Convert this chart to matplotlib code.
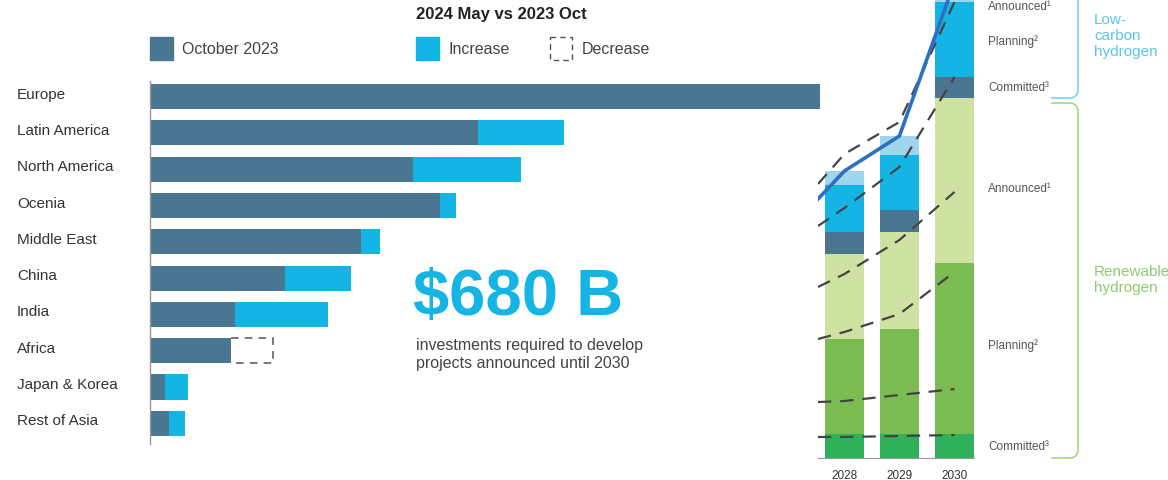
import numpy as np
import matplotlib
matplotlib.use('Agg')
import matplotlib.pyplot as plt
import matplotlib.transforms as mtransforms
from matplotlib.patches import Rectangle

plt.rcParams['font.family'] = ['Liberation Sans', 'DejaVu Sans']

# left chart: investment by region (Oct 2023 base + change to May 2024)
regions = ['Europe', 'Latin America', 'North America', 'Ocenia', 'Middle East',
           'China', 'India', 'Africa', 'Japan & Korea', 'Rest of Asia']
oct_2023 = [200, 97.9, 78.5, 86.6, 63.0, 40.3, 25.4, 24.2, 4.5, 5.7]
increase = [0, 25.7, 32.2, 4.8, 5.7, 19.7, 27.8, 0, 6.9, 4.8]
decrease = [0, 0, 0, 0, 0, 0, 0, 12.5, 0, 0]

# right chart: stacked capacity by year
years = ['2028', '2029', '2030']
green_committed = [24, 24, 24]
green_planning = [95, 105, 171]
green_announced = [85, 97, 165]
lc_committed = [22, 22, 21]
lc_planning = [47, 55, 75]
lc_announced = [14, 19, 20]

# comparison lines (x: left edge, 2028, 2029, 2030)
line_x = [-0.48, 0, 1, 2]
total_start = 259
oct_lines = [
    [274, 304, 336, 456],
    [232, 250, 291, 381],
    [171, 184, 218, 266],
    [119, 126, 144, 186],
    [56, 57, 63, 69],
    [21, 21, 22, 23],
]

C_OCT = '#4b7692'
C_INC = '#14b5e5'
C_LC_ANN = '#9fd6ee'
C_G_COM = '#2fb15b'
C_G_PLAN = '#7abc52'
C_G_ANN = '#cee3a2'
C_TEXT = '#333333'

W, H = 1168, 481
fig = plt.figure(figsize=(W / 100, H / 100), dpi=100)


def fx(px):
    return px / W


def fy(py):
    return 1 - py / H


# ---- left bar chart
ax = fig.add_axes([fx(150), fy(445), fx(820 - 150), (445 - 82) / H])
ypos = np.arange(len(regions))
bh = 0.69
ax.barh(ypos, oct_2023, height=bh, color=C_OCT, zorder=2)
ax.barh(ypos, increase, left=oct_2023, height=bh, color=C_INC, zorder=2)
for i, d in enumerate(decrease):
    if d > 0:
        x0, x1 = oct_2023[i], oct_2023[i] + d
        y0, y1 = i - bh / 2, i + bh / 2
        ax.plot([x0, x1, x1, x0], [y0, y0, y1, y1], color='#555555',
                lw=1.1, dashes=(5, 4), zorder=1)
ax.set_xlim(0, 200)
ax.set_ylim(9.57, -0.43)
ax.set_yticks([])
ax.set_xticks([])
lab_tr = mtransforms.offset_copy(
    mtransforms.blended_transform_factory(fig.transFigure, ax.transData),
    fig=fig, x=0, y=3, units='dots')
for i, name in enumerate(regions):
    ax.text(17 / W, i, name, transform=lab_tr, fontsize=11, color=C_TEXT,
            ha='left', va='center')
for s in ['top', 'right', 'bottom']:
    ax.spines[s].set_visible(False)
ax.spines['left'].set_color('#999999')
ax.spines['left'].set_linewidth(1)
ax.patch.set_visible(False)

# ---- right stacked chart
ax2 = fig.add_axes([fx(818), fy(459), fx(974 - 818), 459 / H])
xb = np.arange(len(years))
bw = 0.71
stacks = [(green_committed, C_G_COM), (green_planning, C_G_PLAN),
          (green_announced, C_G_ANN), (lc_committed, C_OCT),
          (lc_planning, C_INC), (lc_announced, C_LC_ANN)]
bottom = np.zeros(len(years))
for vals, col in stacks:
    ax2.bar(xb, vals, width=bw, bottom=bottom, color=col, zorder=1)
    bottom = bottom + np.array(vals)
for ln in oct_lines:
    ax2.plot(line_x, ln, color='#444444', lw=1.6, dashes=(6, 4), zorder=3)
totals = [total_start] + list(bottom)
ax2.plot(line_x, totals, color='#2f6ec3', lw=2.6, zorder=4)
ax2.set_xlim(-0.48, 2.355)
ax2.set_ylim(0, 459)
ax2.set_xticks(xb)
ax2.set_xticklabels(years, fontsize=8.5, color=C_TEXT)
ax2.tick_params(axis='x', length=0, pad=8)
ax2.set_yticks([])
for s in ['top', 'right', 'left']:
    ax2.spines[s].set_visible(False)
ax2.spines['bottom'].set_color('#999999')
ax2.patch.set_visible(False)

# ---- annotations layer in pixel coordinates
ov = fig.add_axes([0, 0, 1, 1])
ov.set_xlim(0, W)
ov.set_ylim(H, 0)
ov.axis('off')
ov.patch.set_visible(False)

ov.text(416, 15, '2024 May vs 2023 Oct', fontsize=12, fontweight='bold',
        color='#222222', va='center')
ov.add_patch(Rectangle((150, 38), 23, 23, color=C_OCT))
ov.text(182, 50, 'October 2023', fontsize=11.5, color='#444444', va='center')
ov.add_patch(Rectangle((416, 38), 23, 23, color=C_INC))
ov.text(448, 50, 'Increase', fontsize=11.5, color='#444444', va='center')
ov.add_patch(Rectangle((550, 38), 22, 23, facecolor='none', edgecolor='#555555',
                       linestyle=(0, (4, 3)), lw=1))
ov.text(582, 50, 'Decrease', fontsize=11.5, color='#444444', va='center')

ov.text(413, 298, '$680 B', fontsize=47, fontweight='bold', color=C_INC,
        va='center')
ov.text(416, 355, 'investments required to develop\nprojects announced until 2030',
        fontsize=11.5, color='#444444', va='center', linespacing=1.25)

side_labels = [(447, 'Committed³'), (346, 'Planning²'), (189, 'Announced¹'),
               (88, 'Committed³'), (42, 'Planning²'), (7, 'Announced¹')]
for yy, txt in side_labels:
    ov.text(988, yy, txt, fontsize=8.5, color='#555555', va='center')


def arc(cx, cy, r, t0, t1):
    t = np.linspace(t0, t1, 20)
    return cx + r * np.cos(t), cy + r * np.sin(t)


# low-carbon bracket
ax_, ay_ = arc(1070, 91, 8, 0, np.pi / 2)
bx = np.concatenate([[1078], ax_, [1052]])
by = np.concatenate([[-5], ay_, [99]])
ov.plot(bx, by, color='#7fd2f0', lw=1.2)

# renewable bracket
a1x, a1y = arc(1070, 112, 8, -np.pi / 2, 0)
a2x, a2y = arc(1070, 451, 8, 0, np.pi / 2)
gx = np.concatenate([[1052], a1x, a2x, [1052]])
gy = np.concatenate([[104], a1y, a2y, [459]])
ov.plot(gx, gy, color='#a9d487', lw=1.2)

ov.text(1094, 36, 'Low-\ncarbon\nhydrogen', fontsize=11, color='#5cc6ec',
        va='center', linespacing=1.2)
ov.text(1094, 280, 'Renewable\nhydrogen', fontsize=11, color='#8fcb6e',
        va='center', linespacing=1.2)

fig.savefig('out.png', dpi=100)
